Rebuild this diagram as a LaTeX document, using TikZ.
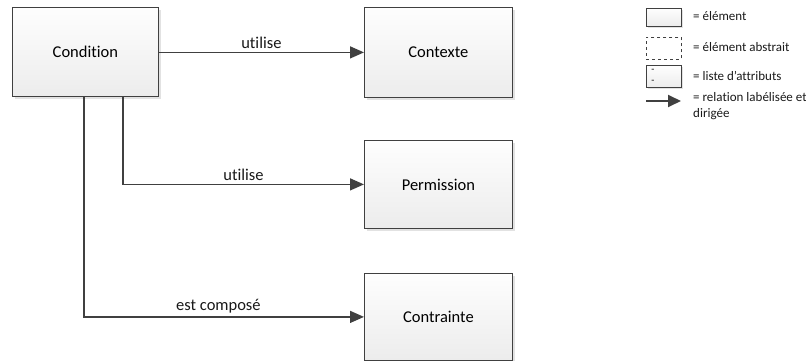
\documentclass[tikz,border=0pt]{standalone}
\usepackage{fontspec}
\setmainfont{Carlito}[Ligatures=NoCommon]
\usetikzlibrary{arrows.meta,shadows}
\definecolor{edge}{HTML}{404040}
\definecolor{boxtop}{HTML}{FEFEFE}
\definecolor{boxbot}{HTML}{ECECEC}
\begin{document}
\begin{tikzpicture}[x=1pt,y=-1pt,
  elem/.style={draw=edge, line width=0.8pt, top color=boxtop, bottom color=boxbot,
    anchor=north west, inner sep=0pt, minimum width=148pt, minimum height=88pt,
    font=\fontsize{16.5}{19}\selectfont,
    drop shadow={shadow xshift=3pt, shadow yshift=-3pt, fill=black!14, opacity=0.8}},
  legbox/.style={draw=edge, line width=0.7pt, top color=boxtop, bottom color=boxbot,
    anchor=north west, inner sep=0pt, minimum width=35pt,
    drop shadow={shadow xshift=1.5pt, shadow yshift=-1.5pt, fill=black!14, opacity=0.8}},
  rel/.style={draw=edge, line width=1.4pt, -{Triangle[length=14pt,width=12pt]}},
  lbl/.style={font=\fontsize{16.5}{19}\selectfont, above, inner sep=3pt, text=black!90},
  legtxt/.style={font=\fontsize{13}{16}\selectfont, anchor=west, inner sep=0pt, text=black!90}
]
\useasboundingbox (0,0) rectangle (806,361);

% main elements
\node[elem, minimum width=146pt, minimum height=89pt] (cond) at (12,7) {Condition};
\node[elem, minimum height=90pt] (ctx) at (364,7) {Contexte};
\node[elem] (perm) at (364,140) {Permission};
\node[elem, minimum height=87pt] (ctr) at (364,273) {Contrainte};

% relations
\draw[rel] (cond.east |- ctx.west) -- node[lbl] {utilise} (ctx.west);
\draw[rel] ([xshift=111pt]cond.south west) |- node[lbl, pos=0.75] {utilise} (perm.west);
\draw[rel] ([xshift=72pt]cond.south west) |- node[lbl, pos=0.74] {est composé} (ctr.west);

% legend
\node[legbox, minimum height=18pt] (lg1) at (646,8) {};
\node[legtxt] (lt1) at (693,16) {= élément};
\node[draw=edge, line width=0.7pt, dashed, fill=white, anchor=north west, inner sep=0pt,
  minimum width=35pt, minimum height=22pt] (lg2) at (646,37) {};
\node[legtxt] (lt2) at (693,47) {= élément abstrait};
\node[legbox, minimum height=22pt] (lg3) at (646,65) {};
\node[font=\fontsize{10}{10}\selectfont, inner sep=0pt] (d1) at (653,70.5) {-};
\node[font=\fontsize{10}{10}\selectfont, inner sep=0pt] (d2) at (653,81.5) {-};
\node[legtxt] (lt3) at (693,76) {= liste d’attributs};
\coordinate (la) at (646,101);
\coordinate (lb) at (681,101);
\draw[draw=edge, line width=1.8pt, -{Triangle[length=13pt,width=12pt]}] (la) -- (lb);
\node[legtxt, anchor=north west, align=left] (lt4) at (693,92)
  {= relation labélisée et\\dirigée};
\end{tikzpicture}
\end{document}
